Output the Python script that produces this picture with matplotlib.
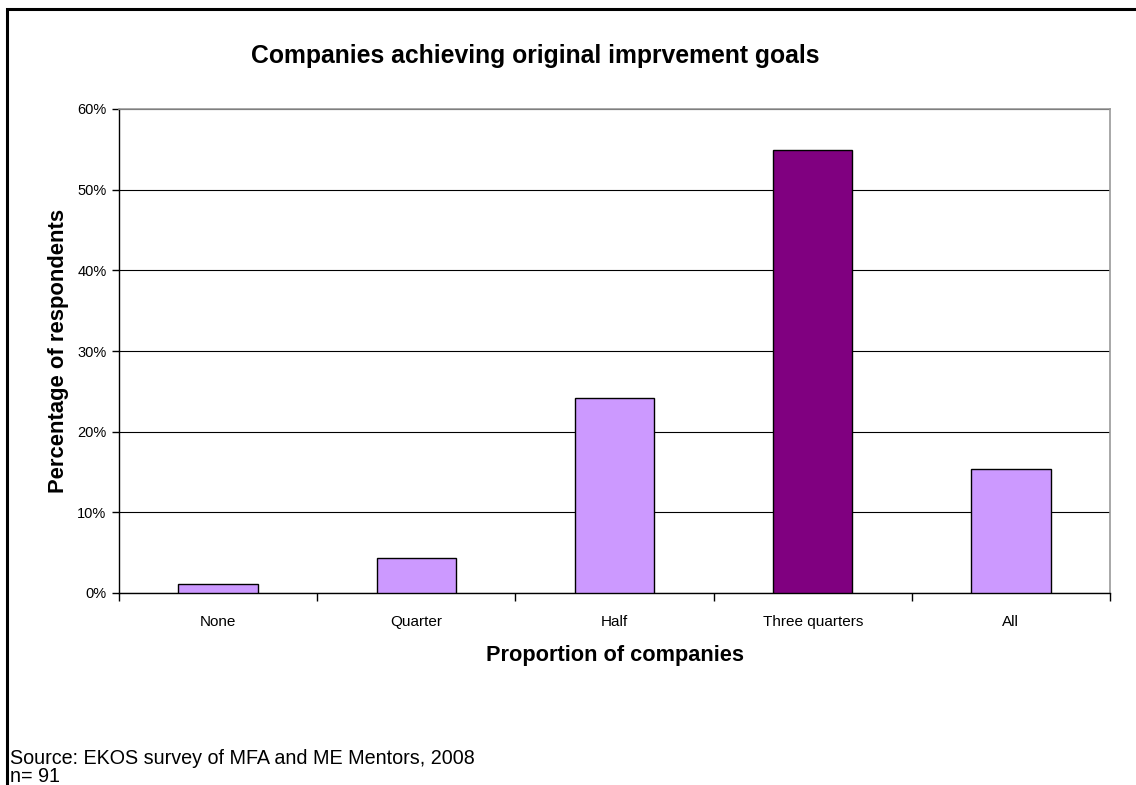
import matplotlib
matplotlib.use("Agg")
import matplotlib.pyplot as plt
from matplotlib.patches import Rectangle
from matplotlib.ticker import FuncFormatter, FixedLocator

plt.rcParams["font.family"] = ["Liberation Sans", "DejaVu Sans"]

categories = ["None", "Quarter", "Half", "Three quarters", "All"]
share_pct = [1.1, 4.4, 24.2, 54.9, 15.4]
highlight = "Three quarters"

W, H = 1136, 785
fig = plt.figure(figsize=(W / 100, H / 100), dpi=100)

# outer chart frame (only top and left edges fall inside the canvas)
fig.patches.append(Rectangle((7 / W, -0.05), 1.2, 1 - 8.5 / H - (-0.05),
                             transform=fig.transFigure, fill=False,
                             edgecolor="black", lw=2.2, zorder=0))

left, right, top, bottom = 119, 1110, 109, 593
ax = fig.add_axes([left / W, 1 - bottom / H, (right - left) / W, (bottom - top) / H])

x = list(range(len(categories)))
colors = ["#800080" if c == highlight else "#CC99FF" for c in categories]
ax.bar(x, share_pct, width=0.4, color=colors, edgecolor="black", lw=1.0, zorder=3)

ax.set_xlim(-0.5, len(categories) - 0.5)
ax.set_ylim(0, 60)
ax.set_yticks(range(0, 61, 10))
ax.yaxis.set_major_formatter(FuncFormatter(lambda v, _: f"{v:.0f}%"))
ax.yaxis.grid(True, color="black", lw=0.8, zorder=1)

# category labels centred, ticks on the boundaries
ax.xaxis.set_major_locator(FixedLocator([i - 0.5 for i in range(len(categories) + 1)]))
ax.xaxis.set_major_formatter(FuncFormatter(lambda v, _: ""))
ax.xaxis.set_minor_locator(FixedLocator(x))
ax.set_xticklabels(categories, minor=True)
ax.tick_params(axis="x", which="minor", length=0, pad=16, labelsize=11)
ax.tick_params(axis="x", which="major", direction="out", length=6, width=1)
ax.tick_params(axis="y", direction="out", length=5, width=1, labelsize=10.5, pad=4)

for s in ("top", "right"):
    ax.spines[s].set_color("#999999")
    ax.spines[s].set_linewidth(1.2)
for s in ("left", "bottom"):
    ax.spines[s].set_color("black")
    ax.spines[s].set_linewidth(1.0)
ax.set_axisbelow(True)

ax.set_xlabel("Proportion of companies", fontsize=15.7, fontweight="bold", labelpad=11)
ax.set_ylabel("Percentage of respondents", fontsize=15.8, fontweight="bold", labelpad=6)

fig.text(535 / W, 1 - 56 / H, "Companies achieving original imprvement goals",
         ha="center", va="center", fontsize=17.8, fontweight="bold")
fig.text(10 / W, 1 - 758 / H, "Source: EKOS survey of MFA and ME Mentors, 2008",
         ha="left", va="center", fontsize=14.2)
fig.text(10 / W, 1 - 777 / H, "n= 91", ha="left", va="center", fontsize=14.2)

fig.savefig("out.png", dpi=100)
